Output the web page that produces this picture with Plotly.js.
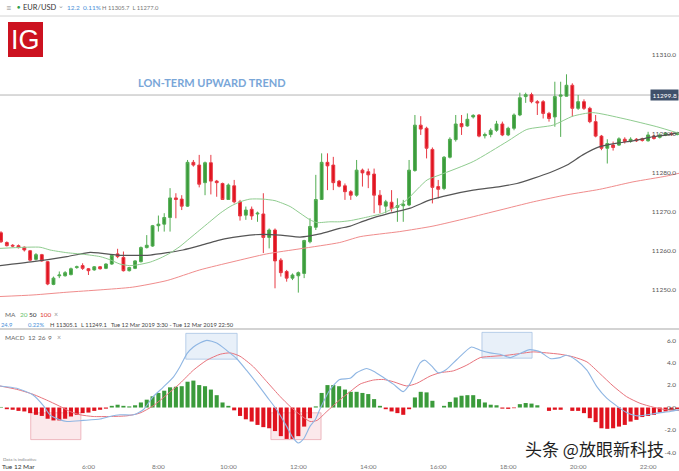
<!DOCTYPE html>
<html><head><meta charset="utf-8">
<script src="https://cdn.plot.ly/plotly-3.0.1.min.js"></script>
<style>html,body{margin:0;padding:0;background:#fff;}#chart{width:679px;height:471px;}</style>
</head><body><div id="chart"></div>
<script>
const day = "2019-03-12 ";
const times = ["03:30","03:40","03:50",
"04:00","04:10","04:20","04:30","04:40","04:50","05:00","05:10","05:20","05:30","05:40","05:50",
"06:00","06:10","06:20","06:30","06:40","06:50","07:00","07:10","07:20","07:30","07:40","07:50",
"08:00","08:10","08:20","08:30","08:40","08:50","09:00","09:10","09:20","09:30","09:40","09:50",
"10:00","10:10","10:20","10:30","10:40","10:50","11:00","11:10","11:20","11:30","11:40","11:50",
"12:00","12:10","12:20","12:30","12:40","12:50","13:00","13:10","13:20","13:30","13:40","13:50",
"14:00","14:10","14:20","14:30","14:40","14:50","15:00","15:10","15:20","15:30","15:40","15:50",
"16:00","16:10","16:20","16:30","16:40","16:50","17:00","17:10","17:20","17:30","17:40","17:50",
"18:00","18:10","18:20","18:30","18:40","18:50","19:00","19:10","19:20","19:30","19:40","19:50",
"20:00","20:10","20:20","20:30","20:40","20:50","21:00","21:10","21:20","21:30","21:40","21:50",
"22:00","22:10","22:20","22:30","22:40","22:50"];

const open = [11264.6,11262.1,11261.4,11261.3,11260.9,11260.0,11257.8,11259.0,11257.2,11251.4,
11253.6,11253.6,11253.9,11255.7,11256.2,11255.4,11255.1,11255.9,11255.5,11256.6,
11259.2,11258.3,11254.9,11255.5,11257.2,11260.8,11261.2,11266.4,11266.8,11268.5,
11273.5,11273.2,11271.4,11282.6,11281.9,11277.4,11282.5,11277.8,11277.2,11273.1,
11276.6,11272.5,11269.1,11270.6,11269.4,11269.4,11263.4,11265.3,11257.6,11254.7,
11253.0,11253.6,11254.2,11262.3,11266.0,11273.1,11282.6,11281.9,11277.8,11276.6,
11275.1,11274.2,11280.6,11280.2,11279.6,11274.2,11271.4,11272.4,11271.1,11271.5,
11271.7,11280.5,11292.1,11291.3,11285.9,11276.4,11275.9,11283.9,11288.4,11292.5,
11291.9,11294.2,11294.7,11289.4,11289.7,11290.8,11292.4,11289.6,11291.3,11294.7,
11299.4,11299.9,11298.1,11298.1,11295.1,11294.2,11299.5,11299.5,11302.3,11296.4,
11298.1,11296.4,11293.0,11289.3,11286.2,11287.0,11287.0,11288.5,11288.0,11288.5,
11288.6,11288.1,11289.3,11289.0,11289.5,11290.0,11289.7];

const high = [11265.0,11262.4,11261.7,11261.6,11261.1,11260.2,11259.4,11259.2,11257.4,11253.4,
11254.7,11254.8,11255.7,11256.2,11256.8,11255.6,11256.1,11256.1,11256.8,11259.0,
11260.5,11259.8,11255.9,11257.6,11261.1,11264.0,11266.6,11269.0,11269.6,11276.0,
11274.7,11274.2,11283.2,11283.2,11284.5,11282.8,11284.5,11278.1,11277.4,11277.2,
11278.1,11273.0,11271.3,11271.3,11270.0,11274.7,11265.7,11265.7,11258.1,11255.1,
11254.2,11254.7,11262.8,11268.3,11279.4,11284.9,11284.9,11284.0,11278.1,11277.2,
11275.5,11283.2,11281.0,11281.0,11281.0,11275.5,11273.0,11275.5,11273.4,11273.0,
11283.2,11294.7,11294.4,11291.7,11286.4,11278.1,11284.2,11289.0,11294.7,11294.7,
11295.1,11294.9,11294.9,11290.2,11291.3,11293.2,11293.0,11291.7,11295.1,11300.4,
11300.4,11300.4,11298.5,11298.5,11295.5,11303.2,11303.2,11305.1,11302.8,11299.8,
11298.7,11296.8,11294.7,11289.6,11288.5,11287.9,11289.0,11289.0,11289.0,11288.8,
11288.9,11290.4,11289.6,11290.0,11290.3,11290.3,11290.4];

const low = [11262.0,11261.1,11260.9,11260.6,11259.8,11257.3,11257.5,11257.2,11251.2,11251.2,
11253.0,11253.4,11253.7,11255.4,11255.1,11253.8,11254.9,11255.2,11255.3,11256.4,
11258.1,11254.7,11254.7,11255.3,11257.0,11260.6,11261.0,11264.9,11264.9,11264.9,
11268.3,11270.4,11271.2,11281.5,11276.2,11274.2,11274.4,11273.8,11273.0,11273.0,
11272.1,11267.7,11267.9,11267.9,11267.4,11259.4,11260.6,11250.4,11253.4,11252.1,
11252.5,11249.3,11253.0,11261.9,11265.3,11273.0,11275.5,11275.5,11276.2,11273.0,
11273.0,11273.8,11276.4,11276.0,11269.6,11269.6,11269.6,11270.0,11267.4,11267.4,
11271.4,11280.2,11289.6,11283.6,11272.1,11273.4,11275.5,11283.6,11287.9,11289.6,
11291.7,11293.8,11289.0,11288.7,11289.0,11290.4,11289.3,11289.3,11290.8,11294.4,
11297.8,11297.7,11294.7,11293.8,11293.0,11291.7,11289.1,11299.4,11294.3,11296.0,
11296.0,11292.6,11289.0,11285.7,11282.3,11285.6,11286.8,11287.4,11287.6,11287.8,
11287.9,11287.9,11288.4,11288.7,11289.3,11289.4,11289.5];

const close = [11262.3,11261.3,11261.2,11260.8,11260.2,11257.6,11259.0,11257.4,11251.5,11253.0,
11253.8,11254.4,11255.4,11255.9,11255.5,11254.9,11255.9,11255.4,11256.6,11258.8,
11258.5,11254.9,11255.7,11257.4,11260.8,11261.4,11266.4,11266.8,11268.5,11273.5,
11273.1,11271.4,11282.6,11281.9,11277.0,11282.5,11277.8,11277.4,11273.1,11276.8,
11272.5,11268.9,11270.4,11268.9,11269.6,11263.4,11265.3,11257.4,11254.4,11253.0,
11253.8,11254.4,11262.6,11266.2,11273.1,11282.6,11281.7,11277.4,11276.5,11275.1,
11274.2,11280.6,11279.9,11279.4,11274.2,11271.7,11272.5,11270.8,11271.5,11271.9,
11280.6,11292.1,11291.1,11286.2,11276.2,11275.7,11283.9,11288.5,11292.4,11291.7,
11293.6,11294.6,11289.3,11289.7,11290.8,11292.4,11289.6,11291.3,11294.7,11299.1,
11299.9,11298.1,11297.8,11295.1,11293.8,11299.4,11299.8,11302.3,11296.4,11298.1,
11296.4,11293.0,11289.3,11286.2,11287.4,11286.4,11288.6,11287.9,11288.5,11288.1,
11288.2,11289.6,11288.7,11289.6,11290.0,11289.7,11290.1];

const histogram = [0.05,-0.15,-0.2,-0.3,-0.35,-0.5,-0.65,-0.75,-1.0,-1.15,
-1.15,-1.0,-0.8,-0.65,-0.5,-0.45,-0.3,-0.2,-0.1,0.15,
0.25,0.15,0.1,0.2,0.45,0.7,1.0,1.3,1.5,1.8,
1.85,1.9,2.3,2.4,2.0,1.9,1.6,1.1,0.45,0.15,
-0.25,-0.75,-1.05,-1.25,-1.55,-1.75,-1.85,-2.1,-2.55,-2.8,
-2.8,-2.55,-1.7,-0.95,0.1,1.3,2.0,2.0,1.9,1.6,
1.4,1.4,1.3,1.2,0.75,0.15,-0.15,-0.35,-0.5,-0.65,
-0.15,0.9,1.4,1.35,0.6,0.0,0.15,0.5,0.9,1.05,
1.1,1.1,0.75,0.45,0.25,0.2,-0.1,-0.12,-0.06,0.3,
0.4,0.35,0.2,0.0,-0.3,-0.2,-0.2,0.0,-0.3,-0.3,
-0.5,-0.95,-1.3,-1.85,-1.9,-1.85,-1.7,-1.55,-1.25,-1.1,
-0.85,-0.75,-0.65,-0.45,-0.35,-0.2,-0.15];

const ma20Times = ["03:28","04:37","04:54","05:23","05:51","06:20","06:37","06:54","07:11","07:28","07:46","08:03","08:20","08:37","08:54","09:11","09:28","09:46","10:03","10:20","10:37","10:59","11:20","11:46","12:03","12:20","12:32","12:54","13:11","13:29","13:58","14:25","14:54","15:06","15:41","16:03","17:00","17:58","18:32","19:17","19:51","20:25","21:17","22:15","22:53"];
const ma20 = [11260.6,11260.9,11260.2,11259.5,11259.1,11258.5,11257.7,11256.6,11256.2,11256.5,11257.1,11258.1,11259.4,11261.1,11263.2,11265.3,11267.4,11269.6,11271.3,11272.5,11273.2,11273.2,11272.8,11271.3,11269.6,11267.9,11267.2,11267.4,11267.4,11267.7,11268.6,11269.6,11271.7,11273.0,11278.1,11279.4,11282.8,11287.9,11291.0,11292.1,11294.4,11295.3,11293.8,11291.7,11290.0];

const ma50Times = ["03:28","04:25","05:23","06:03","06:20","06:49","07:16","07:46","08:15","08:42","09:11","09:41","10:08","10:37","10:59","11:29","12:03","12:20","12:37","13:11","13:29","13:58","14:37","15:12","15:46","16:20","17:00","17:46","18:15","18:43","19:12","19:41","20:08","20:37","21:07","21:34","22:03","22:32","22:53"];
const ma50 = [11256.2,11257.2,11258.5,11259.6,11259.4,11258.9,11258.8,11258.9,11259.5,11260.2,11261.3,11262.6,11263.4,11264.0,11264.2,11264.0,11263.5,11263.8,11264.3,11265.7,11266.3,11267.9,11269.6,11270.9,11273.0,11274.3,11275.5,11276.4,11277.2,11278.5,11280.0,11281.9,11284.5,11286.6,11287.5,11288.1,11289.0,11289.6,11290.2];

const ma100Times = ["03:28","04:25","05:23","06:20","07:16","08:15","09:11","10:08","11:06","12:03","13:11","13:46","14:54","15:51","16:49","17:46","18:43","19:41","20:37","21:34","22:32","22:53"];
const ma100 = [11248.3,11248.7,11249.4,11250.0,11250.7,11252.4,11255.1,11257.2,11259.2,11260.5,11262.1,11263.6,11264.9,11266.3,11268.3,11270.4,11272.5,11274.3,11275.7,11277.6,11279.1,11279.8];

const macdTimes = ["03:28","03:57","04:25","04:43","04:54","05:11","05:23","05:51","06:20","06:37","06:54","07:17","07:34","07:51","08:08","08:26","08:37","08:49","09:00","09:11","09:23","09:40","09:57","10:14","10:31","10:49","11:06","11:23","11:40","11:51","12:00","12:09","12:20","12:29","12:37","12:54","13:11","13:29","13:40","13:57","14:09","14:26","14:43","15:00","15:12","15:29","15:37","15:49","16:00","16:14","16:32","16:57","17:12","17:29","17:46","18:03","18:20","18:37","18:55","19:12","19:29","19:40","19:57","20:15","20:32","20:49","21:06","21:23","21:40","21:58","22:15","22:38","22:53"];
const macd = [1.92,1.71,1.12,0.15,-0.65,-1.09,-1.24,-1.15,-1.03,-0.8,-0.65,-0.65,-0.2,0.97,1.8,2.74,3.63,4.81,5.4,5.75,5.99,5.75,5.1,4.37,3.33,2.15,0.97,-0.2,-1.68,-2.71,-3.16,-2.8,-1.68,-1.09,-0.15,1.56,2.5,2.6,3.1,3.48,3.24,2.68,2.09,1.42,2.15,3.98,4.22,3.69,3.1,3.39,4.28,5.4,5.1,4.87,4.75,4.45,4.81,5.16,4.96,4.37,4.45,4.66,4.22,3.33,1.86,0.83,0.15,-0.44,-0.74,-0.65,-0.5,-0.35,-0.21];

const signalTimes = ["03:28","03:57","04:25","04:54","05:14","05:28","05:46","06:08","06:37","07:06","07:28","07:51","08:14","08:37","09:00","09:23","09:46","10:03","10:20","10:43","11:06","11:29","11:46","12:03","12:20","12:32","12:49","13:11","13:29","13:46","14:09","14:26","14:43","15:06","15:23","15:46","16:03","16:26","16:49","17:12","17:34","17:58","18:20","18:43","19:06","19:29","19:52","20:15","20:37","21:00","21:23","21:46","22:09","22:32","22:53"];
const signal = [1.92,1.62,1.18,0.53,0.03,-0.35,-0.65,-0.8,-0.8,-0.74,-0.5,0.15,1.12,2.15,3.33,4.22,4.75,4.87,4.57,3.63,2.3,0.97,0.09,-0.65,-1.24,-1.15,-0.35,0.68,1.42,2.09,2.45,2.5,2.3,1.92,2.15,2.8,3.1,3.27,3.78,4.45,4.57,4.66,4.81,4.96,4.87,4.75,4.51,4.07,3.04,1.92,0.97,0.38,0.03,-0.21,-0.27];

const priceTicks = [11250, 11260, 11270, 11280, 11290, 11310];
const priceTickText = ["11250.0","11260.0","11270.0","11280.0","11290.0","11310.0"];
const macdTicks = [-4, -2, 0, 2, 4, 6];
const macdTickText = ["-4.0","-2.0","0.0","2.0","4.0","6.0"];
const timeTicks = ["06:00","08:00","10:00","12:00","14:00","16:00","18:00","20:00","22:00"];
const timeTickText = ["6:00","8:00","10:00","12:00","14:00","16:00","18:00","20:00","22:00"];
const lastPrice = 11299.8;

const T = a => a.map(t => day + t);
const GREEN = '#3b9b3b', RED = '#e0131f';
const FONT = 'Lato, "Open Sans", sans-serif';

const W = 679, TOP = 16, BOT = 458, PH = BOT - TOP;
const px = x => x / W;
const py = y => (BOT - y) / PH;
const split = py(329);

const traces = [
  {type:'scatter', mode:'lines', x:T(ma100Times), y:ma100, line:{color:'#f08c8c', width:1, shape:'spline', smoothing:0.6}, xaxis:'x', yaxis:'y', hoverinfo:'skip'},
  {type:'scatter', mode:'lines', x:T(ma50Times), y:ma50, line:{color:'#555555', width:1.2, shape:'spline', smoothing:0.6}, xaxis:'x', yaxis:'y', hoverinfo:'skip'},
  {type:'scatter', mode:'lines', x:T(ma20Times), y:ma20, line:{color:'#8fcc8f', width:1, shape:'spline', smoothing:0.6}, xaxis:'x', yaxis:'y', hoverinfo:'skip'},
  {type:'candlestick', x:T(times), open:open, high:high, low:low, close:close,
   increasing:{line:{color:'#52ad52', width:1}, fillcolor:GREEN},
   decreasing:{line:{color:'#e83a45', width:1}, fillcolor:RED},
   whiskerwidth:0, xaxis:'x', yaxis:'y', hoverinfo:'skip'},
  {type:'bar', x:T(times), y:histogram, marker:{color:histogram.map(v => v >= 0 ? GREEN : RED), line:{width:0}}, xaxis:'x', yaxis:'y2', hoverinfo:'skip'},
  {type:'scatter', mode:'lines', x:T(signalTimes), y:signal, line:{color:'#e8737c', width:1, shape:'spline', smoothing:0.6}, xaxis:'x', yaxis:'y2', hoverinfo:'skip'},
  {type:'scatter', mode:'lines', x:T(macdTimes), y:macd, line:{color:'#8fb6e3', width:1.1, shape:'spline', smoothing:0.6}, xaxis:'x', yaxis:'y2', hoverinfo:'skip'}
];

function note(text, x, y, o) {
  o = o || {};
  return Object.assign({text:text, x:px(x), y:py(y), xref:'paper', yref:'paper', xanchor:'left', yanchor:'middle',
    showarrow:false, borderpad:0, font:{family:FONT, size:o.size || 6.5, color:o.color || '#555'}}, o.extra || {});
}

const annotations = [
  note('≡', 5, 7, {size:9, color:'#888'}),
  note('●', 16, 7, {size:5.5, color:'#2e9e4a'}),
  note('EUR/USD', 22, 7, {size:7.5, color:'#333'}),
  note('⌄', 57, 5, {size:6.5, color:'#999'}),
  note('12.2', 66, 7, {size:6.5, color:'#4a90d9'}),
  note('0.11%', 82, 7, {size:6.5, color:'#4a90d9'}),
  note('H 11305.7  L 11277.0', 101, 7, {size:5.8, color:'#777'}),
  note('IG', 25.5, 40, {extra:{xanchor:'center', font:{family:'"Liberation Sans", Arial, sans-serif', size:27, color:'#fff'}}}),
  note('LON-TERM UPWARD TREND', 137, 82, {extra:{font:{family:FONT, size:11, color:'#79a6d8', weight:700}}}),
  note('MA', 4, 314, {size:6.5, color:'#666'}),
  note('20', 19, 314, {size:6.5, color:'#6cbf6c'}),
  note('50', 28, 314, {size:6.5, color:'#333'}),
  note('100', 39, 314, {size:6.5, color:'#e03c3c'}),
  note('×', 53, 314, {size:7, color:'#999'}),
  note('24.9', 0, 324, {size:5.8, color:'#4a90d9'}),
  note('0.22%', 27, 324, {size:5.8, color:'#4a90d9'}),
  note('H 11305.1', 49, 324, {size:5.8, color:'#444'}),
  note('L 11249.1', 80, 324, {size:5.8, color:'#444'}),
  note('Tue 12 Mar 2019 3:30 - Tue 12 Mar 2019 22:50', 110, 324, {size:5.8, color:'#444'}),
  note('MACD', 4, 337, {size:6.5, color:'#666'}),
  note('12', 27, 337, {size:6.5, color:'#666'}),
  note('26', 37, 337, {size:6.5, color:'#666'}),
  note('9', 47, 337, {size:6.5, color:'#666'}),
  note('×', 56, 337, {size:7, color:'#999'}),
  note('Data is indicative', 2, 459, {size:4.5, color:'#888'}),
  note('Tue 12 Mar', 1, 467, {size:6.5, color:'#333'}),
  note('头条 @放眼新科技', 524, 448, {extra:{font:{family:'"Noto Sans CJK SC", sans-serif', size:17, color:'#1e1e1e', shadow:'0px 0px 2px #ffffff'}}}),
  {text:lastPrice.toFixed(1), x:1, xref:'paper', xanchor:'right', y:lastPrice, yref:'y', yanchor:'middle', showarrow:false,
   bgcolor:'#3f506a', borderpad:1.5, font:{family:FONT, size:6.5, color:'#ffffff'}}
];

const shapes = [
  {type:'line', xref:'paper', yref:'paper', x0:0, x1:1, y0:1, y1:1, line:{color:'#d4d4d4', width:1}},
  {type:'line', xref:'paper', yref:'paper', x0:0, x1:1, y0:split, y1:split, line:{color:'#c4c4c4', width:1.5}},
  {type:'line', xref:'paper', yref:'y', x0:0, x1:1, y0:lastPrice, y1:lastPrice, line:{color:'#b4b4b4', width:1}, layer:'below'},
  {type:'rect', xref:'paper', yref:'paper', x0:px(8), x1:px(43), y0:py(57), y1:py(22), fillcolor:'#cc1220', line:{width:0}},
  {type:'rect', xref:'x', yref:'y2', x0:day+'08:47', x1:day+'10:15', y0:4.31, y1:6.61, fillcolor:'rgba(205,222,242,0.45)', line:{color:'rgba(160,190,225,0.7)', width:1}, layer:'below'},
  {type:'rect', xref:'x', yref:'y2', x0:day+'17:15', x1:day+'18:41', y0:4.4, y1:6.7, fillcolor:'rgba(205,222,242,0.45)', line:{color:'rgba(160,190,225,0.7)', width:1}, layer:'below'},
  {type:'rect', xref:'x', yref:'y2', x0:day+'04:21', x1:day+'05:47', y0:-2.86, y1:-0.47, fillcolor:'rgba(244,200,205,0.4)', line:{color:'rgba(232,160,170,0.7)', width:1}, layer:'below'},
  {type:'rect', xref:'x', yref:'y2', x0:day+'11:13', x1:day+'12:39', y0:-2.86, y1:-0.47, fillcolor:'rgba(244,200,205,0.4)', line:{color:'rgba(232,160,170,0.7)', width:1}, layer:'below'}
];

const layout = {
  width:679, height:471, margin:{l:0, r:0, t:TOP, b:471-BOT},
  paper_bgcolor:'#ffffff', plot_bgcolor:'#ffffff', showlegend:false, hovermode:false,
  bargap:0.3, boxgap:0.3,
  font:{family:FONT},
  xaxis:{type:'date', range:[day+'03:28:17', day+'22:53'], anchor:'y2', domain:[0,1], showgrid:false, zeroline:false, showline:false,
    ticks:'', ticklabelstandoff:3, tickvals:T(timeTicks), ticktext:timeTickText, tickfont:{family:FONT, size:6.5, color:'#777'}, rangeslider:{visible:false}, fixedrange:true},
  yaxis:{domain:[split,1], range:[11240,11320], side:'right', anchor:'x', ticklabelposition:'inside', tickvals:priceTicks, ticktext:priceTickText,
    tickfont:{family:FONT, size:6.5, color:'#555'}, showgrid:false, zeroline:false, showline:false, ticks:'', fixedrange:true},
  yaxis2:{domain:[0,split], range:[-4.5,7], side:'right', anchor:'x', ticklabelposition:'inside', tickvals:macdTicks, ticktext:macdTickText,
    tickfont:{family:FONT, size:6.5, color:'#555'}, showgrid:false, zeroline:false, showline:false, ticks:'', fixedrange:true},
  annotations:annotations, shapes:shapes
};

Plotly.newPlot('chart', traces, layout, {displayModeBar:false, staticPlot:true});
</script></body></html>
